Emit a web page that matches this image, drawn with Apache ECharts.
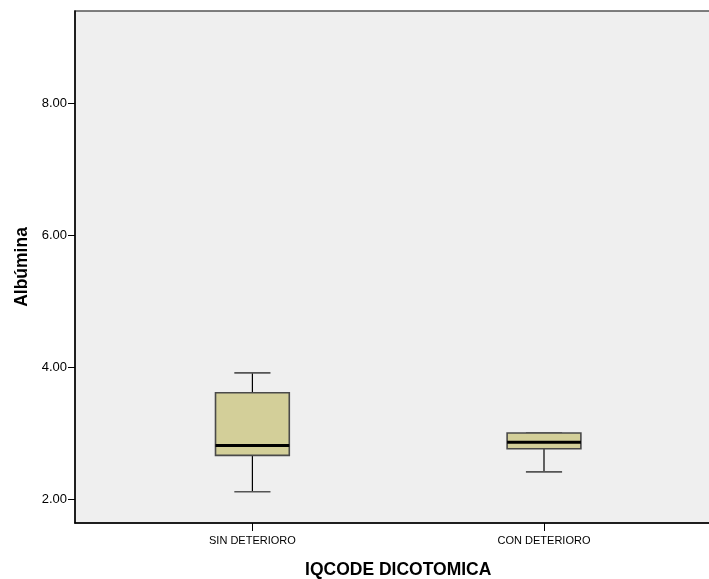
<!DOCTYPE html>
<html>
<head>
<meta charset="utf-8">
<script src="https://cdn.jsdelivr.net/npm/echarts@6/dist/echarts.min.js"></script>
<style>
html,body{margin:0;padding:0;background:#fff;}
#chart{width:709px;height:579px;}
</style>
</head>
<body>
<div id="chart"></div>
<script>
// Data
var categories = ['SIN DETERIORO', 'CON DETERIORO'];
var whiskerLow = [2.11, 2.41];
var q1Values = [2.66, 2.76];
var medianValues = [2.81, 2.86];
var q3Values = [3.61, 3.00];
var whiskerHigh = [3.91, 3.00];
var yTicks = [2, 4, 6, 8];
var yMin = 1.636, yMax = 9.394;

var boxData = categories.map(function (c, i) {
  return [i, whiskerLow[i], q1Values[i], medianValues[i], q3Values[i], whiskerHigh[i]];
});

var FONT = '"Liberation Sans", Arial, sans-serif';
var chart = echarts.init(document.getElementById('chart'));

chart.setOption({
  animation: false,
  backgroundColor: '#ffffff',
  grid: [
    { left: 75, right: -5, top: 11, bottom: 56, show: true, backgroundColor: '#efefef', borderColor: '#555', borderWidth: 1.5,
      containLabel: false, outerBoundsMode: 'none' },
    { left: 106.6, right: 19.2, top: 11, bottom: 56, show: false, containLabel: false, outerBoundsMode: 'none' }
  ],
  xAxis: [
    { gridIndex: 0, type: 'value', min: 0, max: 1, axisLine: { show: true, lineStyle: { color: '#000', width: 1.5 } },
      axisTick: { show: false }, axisLabel: { show: false }, splitLine: { show: false } },
    { gridIndex: 1, type: 'category', data: categories, boundaryGap: true,
      axisLine: { show: false },
      axisTick: { show: true, alignWithLabel: true, length: 8, lineStyle: { color: '#000' } },
      axisLabel: { margin: 12, fontSize: 11, color: '#000', fontFamily: FONT },
      name: 'IQCODE DICOTOMICA', nameLocation: 'middle', nameGap: 38,
      nameTextStyle: { fontSize: 17.5, fontWeight: 'bold', color: '#000', fontFamily: FONT } }
  ],
  yAxis: [
    { gridIndex: 0, type: 'value', min: yMin, max: yMax,
      axisLine: { show: true, lineStyle: { color: '#000', width: 1.5 } },
      axisTick: { show: true, length: 7, lineStyle: { color: '#000' },
        customValues: yTicks },
      axisLabel: { margin: 8, fontSize: 13, color: '#000', fontFamily: FONT,
        customValues: yTicks,
        formatter: function (v) { return v.toFixed(2); } },
      splitLine: { show: false },
      name: 'Albúmina', nameLocation: 'middle', nameGap: 44, nameRotate: 90,
      nameTextStyle: { fontSize: 17.5, fontWeight: 'bold', color: '#000', fontFamily: FONT } },
    { gridIndex: 1, type: 'value', min: yMin, max: yMax, show: false, splitLine: { show: false } }
  ],
  series: [{
    type: 'custom',
    xAxisIndex: 1,
    yAxisIndex: 1,
    data: boxData,
    encode: { x: 0, y: [1, 2, 3, 4, 5] },
    renderItem: function (params, api) {
      var idx = api.value(0);
      var band = api.size([1, 0])[0];
      var boxW = band * 0.253;
      var capW = band * 0.124;
      var pLow = api.coord([idx, api.value(1)]);
      var pQ1 = api.coord([idx, api.value(2)]);
      var pMed = api.coord([idx, api.value(3)]);
      var pQ3 = api.coord([idx, api.value(4)]);
      var pHigh = api.coord([idx, api.value(5)]);
      var cx = pQ1[0];
      var children = [];
      children.push({ type: 'line', shape: { x1: cx, y1: pQ3[1], x2: cx, y2: pHigh[1] }, style: { stroke: '#000', lineWidth: 1.2 } });
      children.push({ type: 'line', shape: { x1: cx, y1: pQ1[1], x2: cx, y2: pLow[1] }, style: { stroke: '#000', lineWidth: 1.2 } });
      children.push({ type: 'line', shape: { x1: cx - capW / 2, y1: pHigh[1], x2: cx + capW / 2, y2: pHigh[1] }, style: { stroke: '#555', lineWidth: 1.6 } });
      children.push({ type: 'line', shape: { x1: cx - capW / 2, y1: pLow[1], x2: cx + capW / 2, y2: pLow[1] }, style: { stroke: '#555', lineWidth: 1.6 } });
      children.push({ type: 'rect', shape: { x: cx - boxW / 2, y: pQ3[1], width: boxW, height: pQ1[1] - pQ3[1] },
        style: { fill: '#d3cf99', stroke: '#4a4a4a', lineWidth: 1.6 } });
      children.push({ type: 'line', shape: { x1: cx - boxW / 2, y1: pMed[1], x2: cx + boxW / 2, y2: pMed[1] }, style: { stroke: '#000', lineWidth: 3 } });
      return { type: 'group', children: children };
    }
  }]
});
</script>
</body>
</html>
